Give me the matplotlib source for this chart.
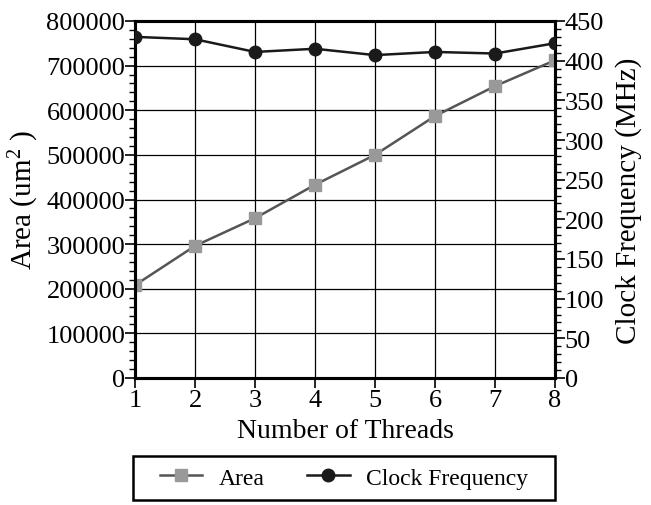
import matplotlib
matplotlib.use("Agg")
import matplotlib.pyplot as plt
from matplotlib.patches import Rectangle
from matplotlib.ticker import MultipleLocator

threads = [1, 2, 3, 4, 5, 6, 7, 8]
area = [208000, 296000, 358000, 433000, 500000, 587000, 654000, 712000]
clock = [430, 427, 411, 415, 407, 411, 409, 422]

plt.rcParams['font.family'] = ['Liberation Serif', 'DejaVu Serif']
plt.rcParams['mathtext.fontset'] = 'custom'
plt.rcParams['mathtext.rm'] = 'Liberation Serif'
plt.rcParams['mathtext.it'] = 'Liberation Serif:italic'

fig = plt.figure(figsize=(6.51, 5.06), dpi=100)
ax = fig.add_axes([135/651, 1-379/506, 420/651, 357/506])
ax2 = ax.twinx()

ax.plot(threads, area, color='#555555', lw=1.8, marker='s', ms=8,
        mfc='#999999', mec='#999999', label='Area', zorder=3)
ax2.plot(threads, clock, color='#1a1a1a', lw=1.8, marker='o', ms=9,
         mfc='#1a1a1a', mec='#1a1a1a', label='Clock Frequency', zorder=3)

ax.set_xlim(1, 8)
ax.set_ylim(0, 800000)
ax2.set_ylim(0, 450)
ax.set_xticks(threads)
ax.yaxis.set_major_locator(MultipleLocator(100000))
ax.yaxis.set_minor_locator(MultipleLocator(20000))
ax2.yaxis.set_major_locator(MultipleLocator(50))
ax2.yaxis.set_minor_locator(MultipleLocator(10))

ax.grid(True, which='major', color='black', lw=0.9)
ax.set_axisbelow(True)

fs = 19
for a in (ax, ax2):
    for s in a.spines.values():
        s.set_linewidth(2.2)
    a.tick_params(which='major', length=7, width=1.2, labelsize=fs, pad=0)
    a.tick_params(which='minor', length=4, width=1.0)
ax.tick_params(axis='x', pad=1)

lfs = 21
ax.set_xlabel('Number of Threads', fontsize=fs + 1, labelpad=5,
              family='Liberation Serif')
ax.set_ylabel('Area (um$^2$ )', fontsize=lfs, labelpad=4,
              family='Liberation Serif')
ax2.set_ylabel('Clock Frequency (MHz)', fontsize=lfs, labelpad=8,
               family='Liberation Serif')

# legend box
fig.add_artist(Rectangle((133/651, 1-501/506), 422/651, 44/506,
                         transform=fig.transFigure, fill=False,
                         edgecolor='black', lw=1.8))
h1, l1 = ax.get_legend_handles_labels()
h2, l2 = ax2.get_legend_handles_labels()
fig.legend(h1 + h2, l1 + l2, loc='center', bbox_to_anchor=(344/651, 1-479/506),
           ncol=2, frameon=False, fontsize=fs - 2, handlelength=1.8,
           columnspacing=1.8, handletextpad=0.7)

fig.savefig('out.png', dpi=100)
